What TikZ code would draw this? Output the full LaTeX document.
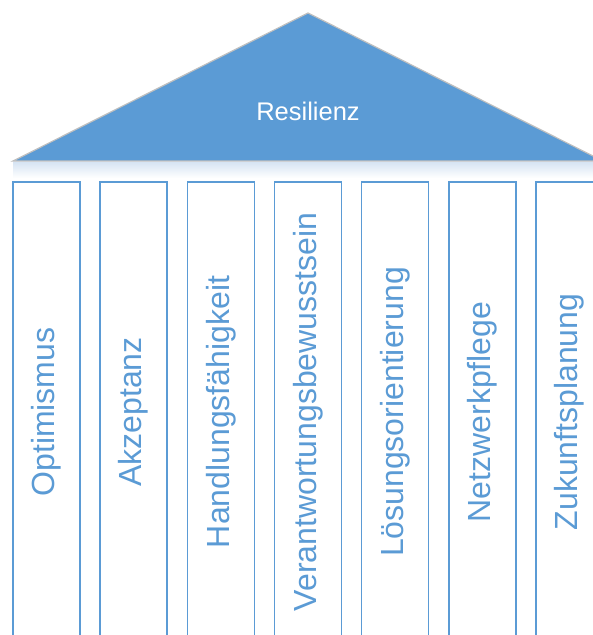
\documentclass[tikz,border=0pt]{standalone}
\usepackage{fontspec}
\setmainfont{Liberation Sans}
\usepackage{tikz}
\usetikzlibrary{positioning,calc}
\definecolor{roofblue}{HTML}{5B9BD5}
\definecolor{roofline}{HTML}{BFBFBF}
\definecolor{glow}{HTML}{D6E4F3}

\begin{document}
\begin{tikzpicture}[x=1pt,y=-1pt,
    roof/.style={fill=roofblue, draw=roofline, line width=1.2pt, line join=miter},
    pillar/.style={draw=roofblue, line width=1.6pt, fill=white},
    pillartext/.style={text=roofblue, rotate=90, font=\fontsize{32}{36}\selectfont},
    rooftext/.style={text=white, font=\fontsize{25.5}{30}\selectfont}]
    \useasboundingbox (0,0) rectangle (593,635);
    \clip (0,0) rectangle (593,635);

    % Roof
    \coordinate (apex) at (308,13);
    \coordinate (left) at (13,161);
    \coordinate (right) at (603,161);
    \shade [top color=glow, bottom color=white] (13,162) rectangle (603,178);
    \draw [roof] (left) -- (apex) -- (right) -- cycle;
    \node [rooftext] (roof) at (308,111) {Resilienz};

    % Pillars
    \foreach \i/\word in {1/Optimismus,2/Akzeptanz,3/Handlungsfähigkeit,4/Verantwortungsbewusstsein,5/Lösungsorientierung,6/Netzwerkpflege,7/Zukunftsplanung}
        \draw [pillar] ({13+(\i-1)*87.17},182) rectangle ({80+(\i-1)*87.17},642) node[pos=.5, pillartext] (p\i) {\word};

\end{tikzpicture}
\end{document}
